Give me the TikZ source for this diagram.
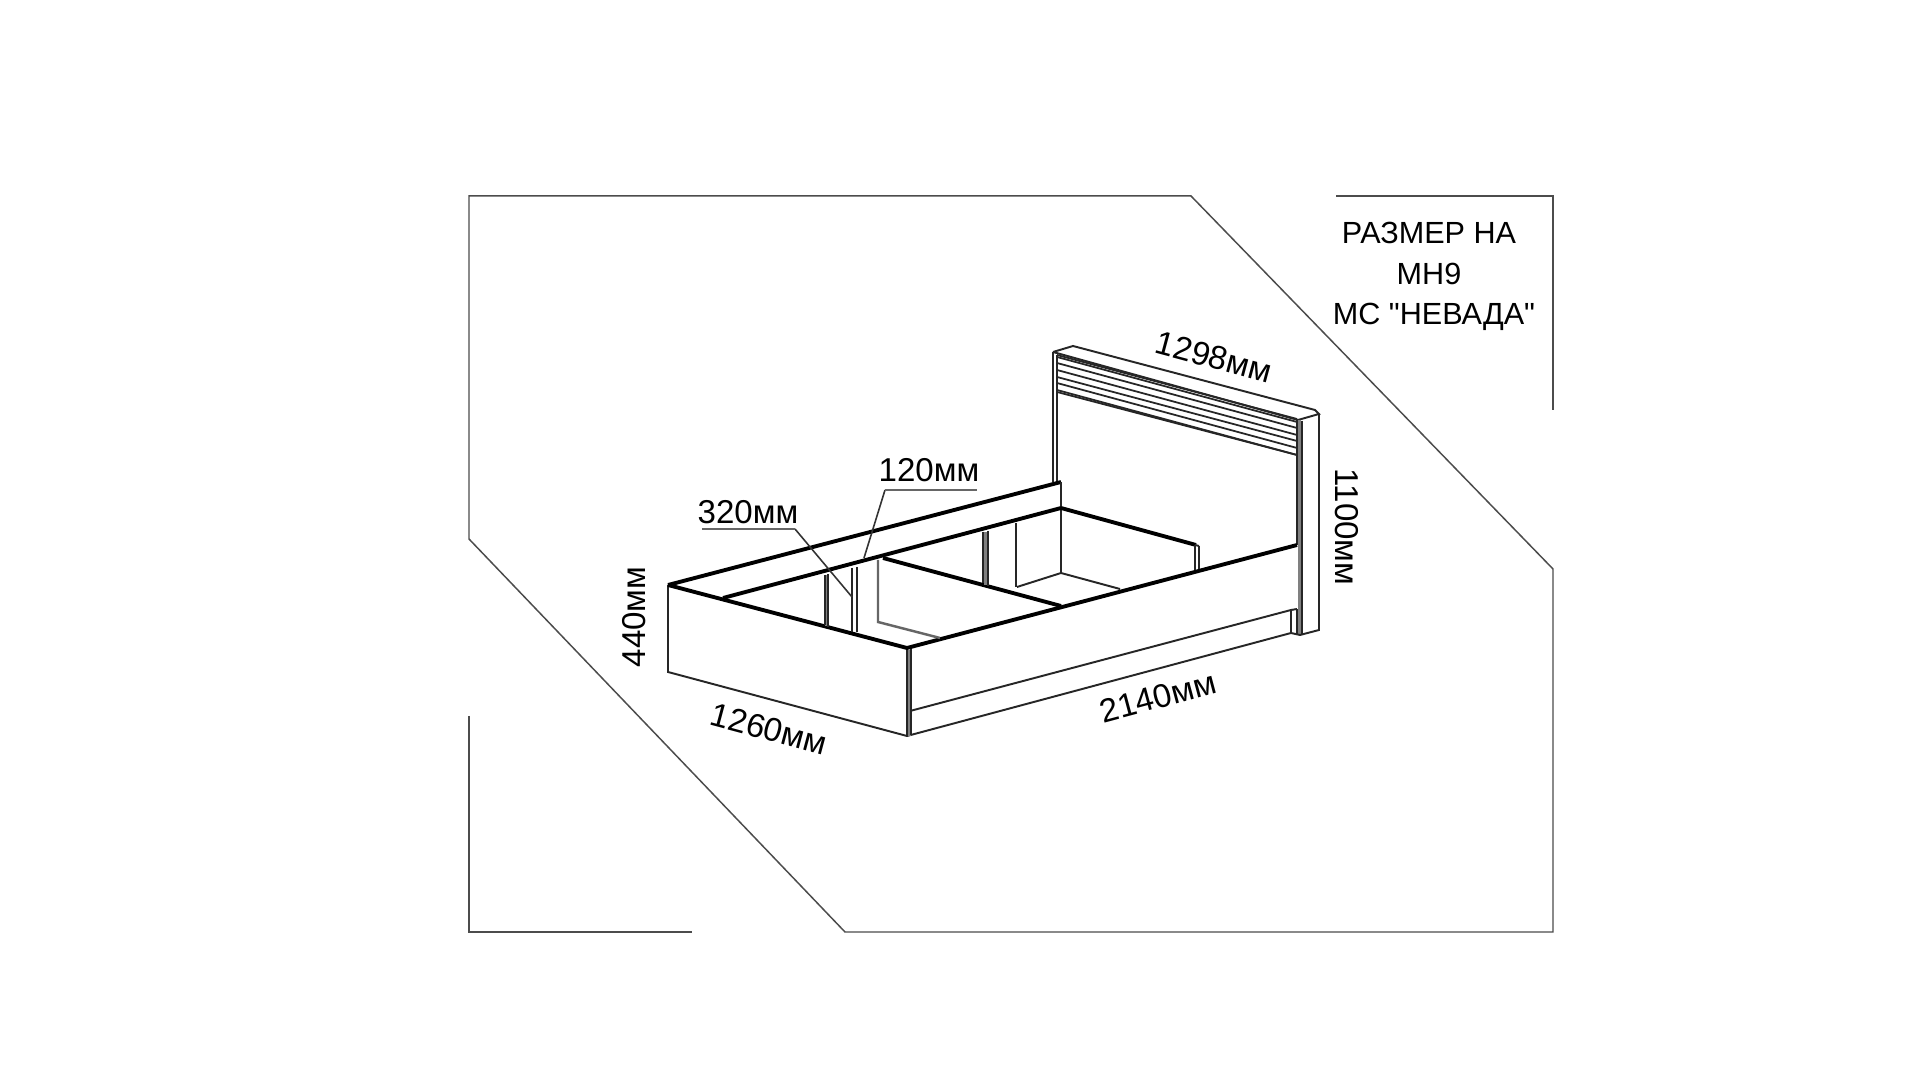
\documentclass[tikz,border=0pt]{standalone}
\usepackage{fontspec}
\newfontfamily\labelfont{Liberation Sans}
\tikzset{
  framing/.style={line width=0.42pt,draw=black!70},
  heavy/.style={line width=1.1pt,draw=black},
  plain/.style={line width=0.55pt,draw=black!85},
  hair/.style={line width=0.5pt,draw=black!85},
  strip/.style={line width=0.9pt,draw=black!50},
  corner/.style={line width=0.7pt,draw=black!60},
  leader/.style={line width=0.45pt,draw=black!80},
  under/.style={line width=0.65pt,draw=black!60},
  dimtext/.style={inner sep=0pt,font=\labelfont\fontsize{9.4}{11}\selectfont},
  titletext/.style={inner sep=0pt,font=\labelfont\fontsize{8.7}{10}\selectfont}
}
\begin{document}
\begin{tikzpicture}[x=0.01cm,y=-0.01cm]
\useasboundingbox (0,0) rectangle (1920,1080);
\fill[white] (0,0) rectangle (1920,1080);

\draw[framing] (469,539) -- (469,196) -- (1191,196) -- (1553,569) -- (1553,932) -- (845,932) -- cycle;
\draw[framing] (469,716) -- (469,932) -- (692,932);
\draw[framing] (1336,196) -- (1553,196) -- (1553,410);

\draw[plain] (1053,352) -- (1053,482);
\draw[plain] (1057,355) -- (1057,482);
\draw[plain] (1053,352) -- (1073,346) -- (1315,410) -- (1319,414) -- (1298,420);
\draw[plain] (1053,352) -- (1298,420);
\foreach \ya/\yb in {355/419,357/422,363/428,370/435,377/441,383/448,390/455,392/455}{
  \draw[hair] (1057,\ya) -- (1297,\yb);
}
\draw[plain] (1297,420) -- (1297,545);
\draw[strip] (1299.5,420) -- (1299.5,634);
\draw[plain] (1302,421) -- (1302,634);
\draw[plain] (1319,414) -- (1319,630) -- (1300,635) -- (1291,633) -- (1291,610);
\draw[plain] (1297,609) -- (1297,634);
\draw[plain] (1291,610) -- (1297,609);

\draw[plain] (668,585) -- (668,672) -- (907,736);
\draw[plain] (907,736) -- (1291,633);
\draw[plain] (910,711) -- (1291,610);
\draw[strip] (909,650) -- (909,736);
\draw[plain] (907,648) -- (907,736);
\draw[plain] (911,648) -- (911,735);

\draw[heavy] (668,585) -- (1061,482);
\draw[plain] (1061,482) -- (1061,573);
\draw[heavy] (723,598) -- (1061,508);
\draw[heavy] (668,585) -- (907,648) -- (1297,545);
\draw[heavy] (883,558) -- (1061,606);
\draw[heavy] (1061,508) -- (1196,545);

\draw[plain] (1195,545) -- (1195,570);
\draw[plain] (1199,546) -- (1199,569);
\draw[plain] (1195,545) -- (1199,546);
\draw[plain] (1017,587) -- (1061,573) -- (1120,589);
\draw[strip] (985.5,532) -- (985.5,585);
\draw[plain] (983,532) -- (983,583);
\draw[plain] (988,531) -- (988,586);
\draw[plain] (1016,523) -- (1016,587);

\draw[strip] (826.5,575) -- (826.5,626);
\draw[plain] (825,575) -- (825,625);
\draw[plain] (828,574) -- (828,627);
\draw[plain] (852,568) -- (852,632);
\draw[plain] (857,567) -- (857,632);
\draw[corner] (878,560) -- (878,622) -- (940,638);

\draw[leader] (885,490) -- (864,558);
\draw[under] (885,490) -- (977,490);
\draw[leader] (795,529) -- (852,597);
\draw[under] (702,529) -- (795,529);

\node[dimtext] (dimbar) at (929,470) {120мм};
\node[dimtext] (dimside) at (748,512) {320мм};
\node[dimtext,rotate=90] (dimheight) at (634,617) {440мм};
\node[dimtext,rotate=-15] (dimwidth) at (769,729) {1260мм};
\node[dimtext,rotate=15] (dimlength) at (1158,697) {2140мм};
\node[dimtext,rotate=-15] (dimboard) at (1214,357) {1298мм};
\node[dimtext,rotate=-90] (dimtall) at (1347,527) {1100мм};
\node[titletext] (titlea) at (1429,233) {РАЗМЕР НА};
\node[titletext] (titleb) at (1429,274) {МН9};
\node[titletext] (titlec) at (1434,317) {МС "НЕВАДА"};
\end{tikzpicture}
\end{document}
